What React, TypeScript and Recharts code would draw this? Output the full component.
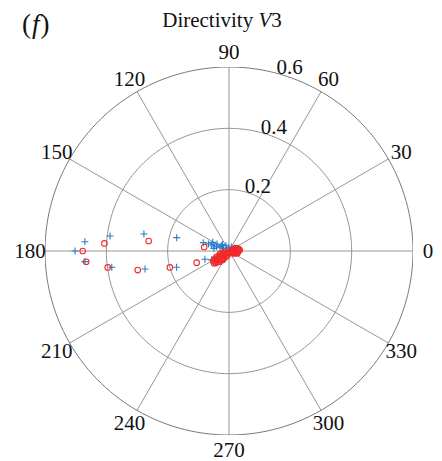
import React from 'react';
import { ScatterChart, XAxis, YAxis, Scatter, ReferenceLine, ReferenceDot } from 'recharts';

const angleTicks = [0, 30, 60, 90, 120, 150, 180, 210, 240, 270, 300, 330];
const radiusTicks = [0.2, 0.4, 0.6];
const rMax = 0.6;

const blueTheta = [180, 176.3, 184.2, 172.8, 187.9, 168.7, 192.1, 165.7, 197.3, 162, 199,
  161, 161, 161.6, 160.6, 159.7, 155, 150, 145, 100, 45, 10, 356, 339, 207, 208, 205, 212, 215, 170, 152,
  15, 20, 5, 30, 60, 120, 135];
const blueR = [0.502, 0.471, 0.471, 0.391, 0.386, 0.283, 0.28, 0.176, 0.179, 0.088, 0.083,
  0.071, 0.06, 0.052, 0.043, 0.031, 0.02, 0.045, 0.03, 0.012, 0.012, 0.02, 0.03, 0.015, 0.064, 0.052, 0.04, 0.03, 0.057, 0.05, 0.06,
  0.03, 0.025, 0.028, 0.02, 0.015, 0.02, 0.03];

const redTheta = [180, 184.3, 176.5, 187.7, 172.9, 191.8, 170.8, 195.5, 199.8,
  219.4, 220.9, 212.7, 220.8, 214, 214, 217, 230, 315, 355, 3, 225, 228.7, 228, 240, 212.5, 198,
  205, 208, 222, 218, 200, 190, 350, 340, 0, 10, 230, 235, 210, 15, 345,
  10, 15, 20, 5, 0, 350, 340, 330, 25, 355, 245, 250, 235, 225, 215, 205];
const redR = [0.477, 0.467, 0.407, 0.399, 0.264, 0.304, 0.082, 0.2, 0.112,
  0.063, 0.053, 0.05, 0.042, 0.033, 0.025, 0.016, 0.008, 0.005, 0.012, 0.02, 0.049, 0.036, 0.028, 0.015, 0.061, 0.031,
  0.045, 0.038, 0.058, 0.02, 0.02, 0.015, 0.02, 0.015, 0.025, 0.015, 0.045, 0.03, 0.055, 0.01, 0.028,
  0.033, 0.03, 0.025, 0.035, 0.03, 0.028, 0.022, 0.015, 0.018, 0.02, 0.02, 0.012, 0.035, 0.025, 0.04, 0.028];

const rad = (d: number) => (d * Math.PI) / 180;
const toXY = (theta: number, r: number) => ({ x: r * Math.cos(rad(theta)), y: r * Math.sin(rad(theta)), theta, r });

const blueData = blueTheta.map((t, i) => toXY(t, blueR[i]));
const redData = redTheta.map((t, i) => toXY(t, redR[i]));

const ringData = (rv: number) => {
  const pts = [];
  for (let a = 0; a <= 360; a += 2) pts.push(toXY(a, rv));
  return pts;
};

const FONT = '"Liberation Serif", "Times New Roman", serif';
const BLUE = '#2a7fc8';
const RED = '#f22a2a';
const GRID = '#969696';
const LABEL_R = rMax * (199 / 184);
const RLABEL_ANGLE = 75;

const NoShape = () => <g />;

const PlusShape = (p: any) => {
  const s = 3.5;
  return <path d={`M${p.cx - s},${p.cy}H${p.cx + s}M${p.cx},${p.cy - s}V${p.cy + s}`} stroke={BLUE} strokeWidth={1.1} fill="none" />;
};

const CircleShape = (p: any) => <circle cx={p.cx} cy={p.cy} r={2.8} stroke={RED} strokeWidth={1.1} fill="none" />;

const textShape = (label: string, dx: number, dy: number, anchor: 'middle' | 'start') => (p: any) => (
  <text x={p.cx + dx} y={p.cy + dy} textAnchor={anchor} dominantBaseline="central" fontFamily={FONT} fontSize={21} fill="#111">
    {label}
  </text>
);

export default function App() {
  return (
    <div style={{ position: 'absolute', left: 0, top: 0, width: 442, height: 461, background: '#fff' }}>
      <ScatterChart width={442} height={461} margin={{ top: 67, right: 29, bottom: 26, left: 45 }}>
        <XAxis type="number" dataKey="x" domain={[-rMax, rMax]} allowDataOverflow hide />
        <YAxis type="number" dataKey="y" domain={[-rMax, rMax]} allowDataOverflow hide />
        {radiusTicks.map((rv) => (
          <Scatter key={`ring-${rv}`} data={ringData(rv)} line={{ stroke: rv === rMax ? '#7a7a7a' : GRID, strokeWidth: 1 }} shape={NoShape} isAnimationActive={false} />
        ))}
        {angleTicks.map((a) => (
          <ReferenceLine
            key={`spoke-${a}`}
            segment={[{ x: 0, y: 0 }, { x: rMax * Math.cos(rad(a)), y: rMax * Math.sin(rad(a)) }]}
            stroke={GRID}
            strokeWidth={1}
            ifOverflow="visible"
          />
        ))}
        {angleTicks.map((a) => (
          <ReferenceDot
            key={`alabel-${a}`}
            x={LABEL_R * Math.cos(rad(a))}
            y={LABEL_R * Math.sin(rad(a))}
            ifOverflow="visible"
            shape={textShape(String(a), 0, 0, 'middle')}
          />
        ))}
        {radiusTicks.map((rv) => (
          <ReferenceDot
            key={`rlabel-${rv}`}
            x={rv * Math.cos(rad(RLABEL_ANGLE))}
            y={rv * Math.sin(rad(RLABEL_ANGLE))}
            ifOverflow="visible"
            shape={textShape(String(rv), 0, -6, 'start')}
          />
        ))}
        <Scatter name="blue" data={blueData} shape={PlusShape} isAnimationActive={false} />
        <Scatter name="red" data={redData} shape={CircleShape} isAnimationActive={false} />
      </ScatterChart>
      <svg width={442} height={461} style={{ position: 'absolute', left: 0, top: 0, pointerEvents: 'none' }}>
        <text x={22} y={33} fontFamily={FONT} fontSize={27} fill="#111" letterSpacing={1}>
          (<tspan fontStyle="italic">f</tspan>)
        </text>
        <text x={222} y={27} textAnchor="middle" fontFamily={FONT} fontSize={21} fill="#111">
          Directivity <tspan fontStyle="italic">V</tspan>3
        </text>
      </svg>
    </div>
  );
}
